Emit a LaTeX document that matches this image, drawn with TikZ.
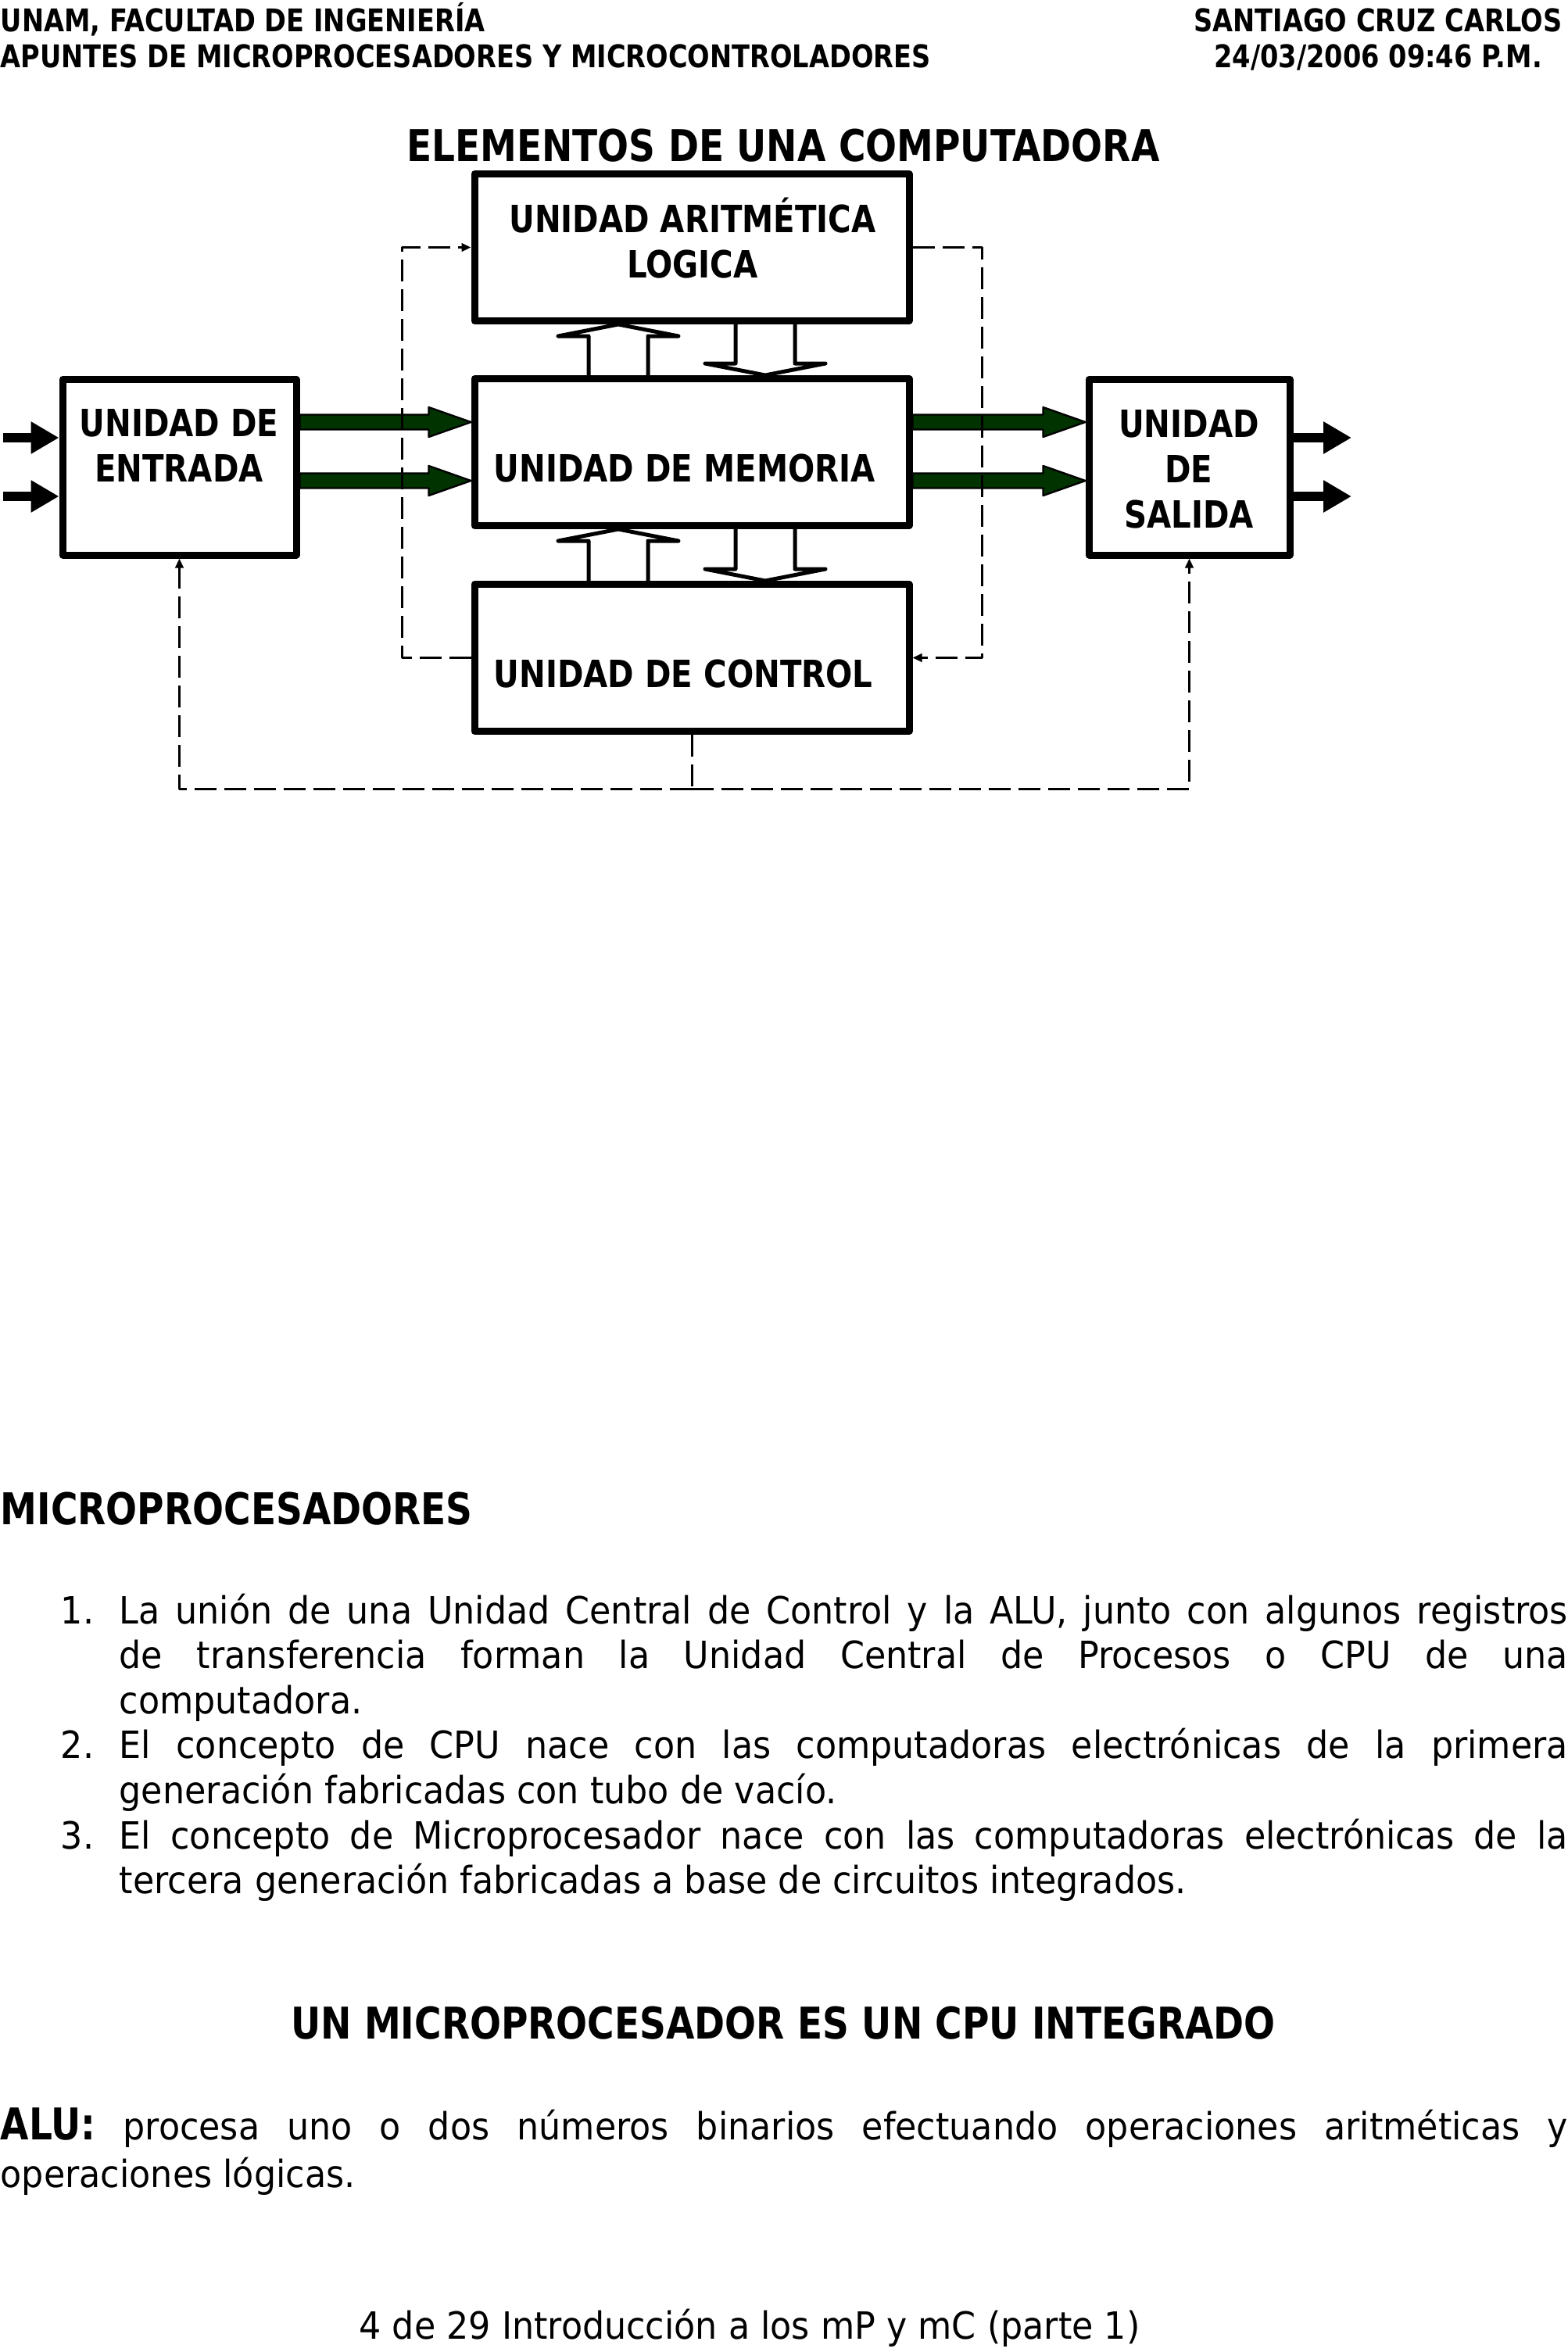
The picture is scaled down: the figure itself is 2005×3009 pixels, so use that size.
\documentclass[tikz,border=0pt]{standalone}
\usepackage{fontspec}
\setmainfont{DejaVu Sans}[FakeStretch=0.925]
\newfontfamily\boldfam{DejaVu Sans}[FakeStretch=0.84]
\usepackage{tikz}
\usetikzlibrary{arrows.meta,calc}
\definecolor{busgreen}{HTML}{003300}
\newcommand\boldtxt{\boldfam\bfseries}
\tikzset{
    every picture/.style={line cap=round,line join=round},
    unitbox/.style={draw=black,fill=white,line width=2.25pt,inner sep=0pt},
    boxtext/.style={inner sep=0pt,anchor=base,align=center,
      font=\boldtxt\fontsize{12}{14.4}\selectfont},
    headtext/.style={inner sep=0pt,anchor=base west,
      font=\boldtxt\fontsize{10}{12}\selectfont},
    titletext/.style={inner sep=0pt,anchor=base,
      font=\boldtxt\fontsize{14}{16.8}\selectfont},
    bodytext/.style={inner sep=0pt,anchor=base west,
      font=\fontsize{12}{14.4}\selectfont},
    busline/.style={fill=busgreen,draw=black,line width=0.6pt},
    hollowbus/.style={draw=black,line width=1.25pt},
    inarrow/.style={line width=3pt,line cap=butt,
      -{Triangle[length=9pt,width=9.75pt]}},
    ctrlline/.style={line width=0.75pt,line cap=butt,dash pattern=on 7pt off 2.5pt,
      -{Triangle[length=3pt,width=2.6pt]}}
}
% bus arrow drawn as a filled outline
\newcommand\busarrow[2]{%
  \filldraw[busline] ($(#1)+(0,-9.5)$) -- ($(#2)+(-54,-9.5)$) -- ($(#2)+(-54,-19)$) -- (#2)
    -- ($(#2)+(-54,19)$) -- ($(#2)+(-54,9.5)$) -- ($(#1)+(0,9.5)$) -- cycle;}
\newcommand\hollowup[3]{%
  \draw[hollowbus] ($(#2.north -| #1)+(-38,0)$) -- ($(#3.south -| #1)+(-38,15)$)
    -- ($(#3.south -| #1)+(-77,15)$) -- (#3.south -| #1) -- ($(#3.south -| #1)+(77,15)$)
    -- ($(#3.south -| #1)+(38,15)$) -- ($(#2.north -| #1)+(38,0)$);}
\newcommand\hollowdown[3]{%
  \draw[hollowbus] ($(#3.south -| #1)+(-38,0)$) -- ($(#2.north -| #1)+(-38,-15)$)
    -- ($(#2.north -| #1)+(-77,-15)$) -- (#2.north -| #1) -- ($(#2.north -| #1)+(77,-15)$)
    -- ($(#2.north -| #1)+(38,-15)$) -- ($(#3.south -| #1)+(38,0)$);}

\begin{document}
\begin{tikzpicture}[x=0.25pt,y=-0.25pt]
  \useasboundingbox (0,0) rectangle (2005,3009);
  % header
  \node[headtext] (hd1) at (0,40) {UNAM, FACULTAD DE INGENIERÍA};
  \node[headtext] (hd2) at (0,86) {APUNTES DE MICROPROCESADORES Y MICROCONTROLADORES};
  \node[headtext,anchor=base] (hd3) at (1763,40) {SANTIAGO CRUZ CARLOS};
  \node[headtext,anchor=base] (hd4) at (1763,86) {24/03/2006 09:46 P.M.};
  \node[titletext] (ttl) at (1002,206) {ELEMENTOS DE UNA COMPUTADORA};

  % units
  \node[unitbox,minimum width=139pt,minimum height=47pt] (alu) at (885,316.5) {};
  \node[unitbox,minimum width=139pt,minimum height=47pt] (mem) at (885,578.5) {};
  \node[unitbox,minimum width=139pt,minimum height=47pt] (ctl) at (885,841.5) {};
  \node[unitbox,minimum width=74.75pt,minimum height=56.25pt] (ent) at (229.5,597.5) {};
  \node[unitbox,minimum width=64.25pt,minimum height=56.25pt] (sal) at (1521.5,597.5) {};
  \node[boxtext] (alut) at (886,355) {UNIDAD ARITMÉTICA\\LOGICA};
  \node[boxtext,anchor=base west] (memt) at (631,616) {UNIDAD DE MEMORIA};
  \node[boxtext,anchor=base west] (ctlt) at (631,879) {UNIDAD DE CONTROL};
  \node[boxtext] (entt) at (229,616) {UNIDAD DE\\ENTRADA};
  \node[boxtext] (salt) at (1521,675) {UNIDAD\\DE\\SALIDA};

  % buses
  \coordinate (r1) at (0,540);
  \coordinate (r2) at (0,615);
  \busarrow{ent.east |- r1}{mem.west |- r1}
  \busarrow{ent.east |- r2}{mem.west |- r2}
  \busarrow{mem.east |- r1}{sal.west |- r1}
  \busarrow{mem.east |- r2}{sal.west |- r2}
  \coordinate (cu) at (791,0);
  \coordinate (cd) at (979,0);
  \hollowup{cu}{mem}{alu}
  \hollowdown{cd}{mem}{alu}
  \hollowup{cu}{ctl}{mem}
  \hollowdown{cd}{ctl}{mem}

  % inputs and outputs
  \coordinate (i1) at (4,560);
  \coordinate (i2) at (4,635);
  \coordinate (o1) at (1729,560);
  \coordinate (o2) at (1729,635);
  \draw[inarrow] (i1) -- (ent.west |- i1);
  \draw[inarrow] (i2) -- (ent.west |- i2);
  \draw[inarrow] (sal.east |- o1) -- (o1);
  \draw[inarrow] (sal.east |- o2) -- (o2);

  % control lines
  \draw[ctrlline] (ctl.west) -- ++(-88,0) |- (alu.west);
  \draw[ctrlline] (alu.east) -- ++(89,0) |- (ctl.east);
  \draw[ctrlline,-] (ctl.south) -- ++(0,69) coordinate (bj);
  \draw[ctrlline] (bj) -| (ent.south);
  \draw[ctrlline] (bj) -| (sal.south);

  % text below
  \node[titletext,anchor=base west] (mph) at (0,1950) {MICROPROCESADORES};
  \node[bodytext] (n1) at (77,2077) {1.};
  \node[bodytext] (l1) at (152,2077) {\makebox[463.25pt][s]{La unión de una Unidad Central de Control y la ALU, junto con algunos registros}};
  \node[bodytext] (l2) at (152,2134.6) {\makebox[463.25pt][s]{de transferencia forman la Unidad Central de Procesos o CPU de una}};
  \node[bodytext] (l3) at (152,2192.2) {computadora.};
  \node[bodytext] (n2) at (77,2249.8) {2.};
  \node[bodytext] (l4) at (152,2249.8) {\makebox[463.25pt][s]{El concepto de CPU nace con las computadoras electrónicas de la primera}};
  \node[bodytext] (l5) at (152,2307.4) {generación fabricadas con tubo de vacío.};
  \node[bodytext] (n3) at (77,2365) {3.};
  \node[bodytext] (l6) at (152,2365) {\makebox[463.25pt][s]{El concepto de Microprocesador nace con las computadoras electrónicas de la}};
  \node[bodytext] (l7) at (152,2422.6) {tercera generación fabricadas a base de circuitos integrados.};
  \node[titletext] (cpuh) at (1002,2608) {UN MICROPROCESADOR ES UN CPU INTEGRADO};
  \node[bodytext] (alu1) at (0,2737) {\makebox[501.25pt][s]{{\boldtxt\fontsize{14}{16.8}\selectfont ALU:} procesa uno o dos números binarios efectuando operaciones aritméticas y}};
  \node[bodytext] (alu2) at (0,2798) {operaciones lógicas.};
  \node[bodytext,anchor=base] (foot) at (959,2992) {4 de 29 Introducción a los mP y mC (parte 1)};
\end{tikzpicture}
\end{document}
